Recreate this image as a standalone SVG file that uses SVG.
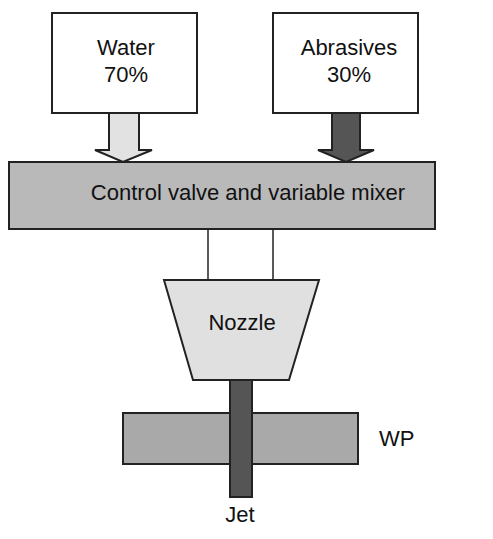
<svg xmlns="http://www.w3.org/2000/svg" width="493" height="539" viewBox="0 0 493 539">
<style>
text{font-family:"Liberation Sans",Arial,sans-serif;fill:#111;text-anchor:middle;font-size:22px}
.box{fill:#fff;stroke:#222;stroke-width:2}
.ln{stroke:#222;stroke-width:1.5;fill:none}
</style>
<rect width="493" height="539" fill="#fff"/>
<g id="water">
<rect class="box" x="52" y="13" width="145" height="100"/>
<text x="126" y="55">Water</text>
<text x="126" y="82">70%</text>
</g>
<g id="abrasives">
<rect class="box" x="273" y="13" width="145" height="100"/>
<text x="349" y="55">Abrasives</text>
<text x="349" y="82">30%</text>
</g>
<g id="mixer">
<rect x="9" y="162" width="426" height="67" fill="#b9b9b9" stroke="#222" stroke-width="2"/>
<text x="248" y="200">Control valve and variable mixer</text>
</g>
<g id="nozzle">
<polygon points="164,280 319,280 289,380 193,380" fill="#e0e0e0" stroke="#222" stroke-width="2"/>
<text x="242" y="330">Nozzle</text>
</g>
<g id="wp">
<rect x="123" y="413" width="235" height="51" fill="#a9a9a9" stroke="#222" stroke-width="2"/>
<text x="379" y="446" style="text-anchor:start">WP</text>
</g>
<g id="connectors">
<polygon points="109,113 139,113 139,150 152,150 123,162 95,150 109,150" fill="#e2e2e2" stroke="#222" stroke-width="2"/>
<polygon points="332,113 360,113 360,150 374,150 346,162 318,150 332,150" fill="#555" stroke="#222" stroke-width="2"/>
<line class="ln" x1="208" y1="229" x2="208" y2="280"/>
<line class="ln" x1="273" y1="229" x2="273" y2="280"/>
</g>
<g id="jet">
<rect x="230" y="380" width="22" height="117" fill="#555" stroke="#222" stroke-width="2"/>
<text x="240" y="522">Jet</text>
</g>
</svg>
